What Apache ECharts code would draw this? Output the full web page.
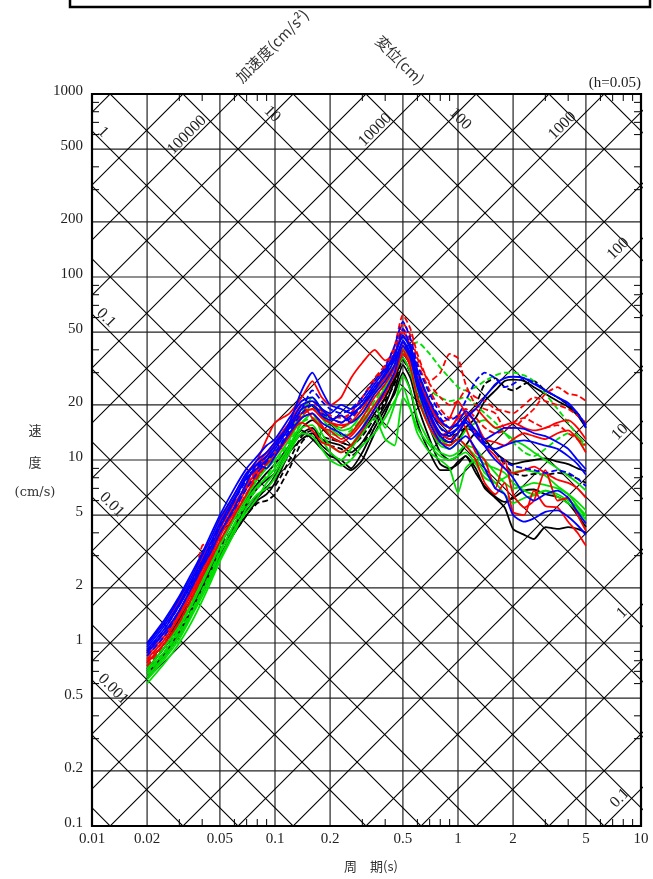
<!DOCTYPE html>
<html><head><meta charset="utf-8">
<script src="https://cdn.jsdelivr.net/npm/echarts@6/dist/echarts.min.js"></script>
<style>html,body{margin:0;padding:0;background:#fff}#c{width:653px;height:879px}</style>
</head><body><div id="c"></div>
<script>
// ---------------- DATA ----------------
const periods = [0.02,0.025,0.03,0.035,0.04,0.045,0.05,0.06,0.07,0.08,0.09,0.1,
  0.12,0.14,0.16,0.18,0.2, 0.23,0.26,0.3,0.35,0.4,0.45,0.5,
  0.55,0.6,0.7,0.8,0.9,1.0, 1.1,1.25,1.4,1.6,1.8,2.0, 2.3,2.6,3.0,3.5,4.0,4.5,5.0];

const blackSolid1 = [0.65,0.85,1.1,1.45,1.9,2.4,2.9,4.0,5.0,6.0,6.5,7.5, 11,13,14,12,11, 9.5,8.8,10,14,18,24,33, 28,20,13,9.5,9.0,9.5, 10.5,9,7,6.2,5.5,4.2, 3.9,3.7,4.3,4.2,4.3,4.2,4.0];
const blackSolid2 = [0.72,0.95,1.25,1.6,2.1,2.6,3.2,4.3,5.8,7.0,7.8,8.5, 11.5,14,15,13,12.5, 12,11,12.5,16,20,27,36, 30,22,15,11,10,10.5, 12,14,13,11,10,9.5, 9.8,10,10.2,9.8,9.5,9,8.7];
const blackSolid3 = [0.78,1.0,1.35,1.75,2.3,2.8,3.4,4.8,6.2,7.4,8.5,9.5, 12,15,16.5,15,13.5, 12.5,12,14,18,22,28,38, 33,25,17,13,12.5,13, 15,17,21,24,27,27.5, 27,25,23,21,19.5,17.5,15];
const blackSolid4 = [0.68,0.88,1.15,1.5,2.0,2.5,3.0,4.1,5.3,6.2,7.0,8.2, 12,14.5,13,11.5,10.5, 10,9,11,15,19,23,30, 24,16,11,8.8,8.8,9.8, 10.5,8.5,7.2,6.3,5.9,6.2, 6.8,6.9,6.5,6.3,5.8,5.0,4.3];
const blackDash1 = [0.7,0.9,1.2,1.55,2.0,2.5,3.0,4.0,5.0,5.8,6.0,6.5, 9,12.5,14,13,12, 11.5,10.5,12,16,21,26,35, 30,23,17,14,13,14, 16.5,20,26,28,25,24, 26,27,24,22,20,18,15.5];
const blackDash2 = [0.75,0.95,1.3,1.7,2.2,2.7,3.3,4.4,5.6,6.4,7.0,7.2, 10,13.5,14.5,13.5,13, 12.5,12,13.5,17,22,29,40, 34,26,19,15,13.5,14, 15,14,12.5,11,9.5,8.5, 8.2,8.4,8.3,8.5,8.3,7.9,7.5];

const redSolid1 = [1.0,1.3,1.7,2.2,2.9,3.6,4.6,6.5,8.5,10,13,16, 18,22,27,22,20, 22,28,34,40,35,38,50, 42,30,20,16,15,17, 18,16,13,12.5,12,13, 14,13.5,13,14,14.5,13,11];
const redSolid2 = [0.85,1.1,1.45,1.9,2.5,3.1,3.8,5.5,7.5,9.5,11,12.5, 16,20,17,15,14.5, 13,14,17,22,26,32,44, 38,27,18,14,13,14, 17,19,17,15,15.5,16, 15,14.5,15,16,16.5,15,13];
const redSolid3 = [0.78,1.0,1.3,1.75,2.3,2.9,3.6,5.0,6.5,8.5,10,11, 14,16,14.5,12.5,12, 11,12,14.5,19,23,30,40, 32,22,15,12.5,12,13, 12,10,7.5,6.5,7.5,5.2, 5.0,6.8,5.6,5.5,4.6,4.0,3.4];
const redSolid4 = [0.9,1.15,1.5,2.0,2.6,3.3,4.2,5.8,7.2,8.8,10.5,12, 15,18,19,17,16, 15.5,16,19,24,28,33,42, 35,26,17,13.5,14.5,17, 15,11,10,7.0,10,6.5, 5.5,6.0,8.8,6.0,6.2,5.0,4.1];
const redSolid5 = [0.82,1.05,1.4,1.85,2.4,3.0,3.9,5.2,7.0,8.2,9.5,10.5, 13.5,17,18,15.5,13.5, 12.5,13.5,16,20,24,29,38, 34,28,20,16,17,21, 18,14,12,10.5,9,8.5, 8.8,9.2,8.5,7.8,7.5,7.0,6.2];
const redDash1 = [0.8,1.05,1.4,1.9,3.4,3.5,4.0,5.5,7.2,8.5,10,12, 15,19,20,18,17, 16,18,22,28,33,42,62, 52,38,27,30,38,36, 26,20,19,18,15,15, 17,19,23,25,23,22.5,21];
const redDash2 = [0.75,1.0,1.3,1.75,2.3,2.9,3.6,5.0,6.6,8.0,9.5,11, 14,17.5,19,17,16, 15,16.5,20,25,30,38,56, 48,36,26,22,20,21, 24,22,21,19,18.5,18, 20,22,21,20,19,17.5,16];
const redDash3 = [0.88,1.15,1.5,2.0,2.6,3.3,4.1,5.6,7.4,9.0,10.5,12.5, 16,20,21,18.5,17.5, 17,18,22,27,32,40,52, 45,34,24,19,17,17.5, 19,17,15,14,14.5,16, 17,16,15,15.5,14,13,12];

const blueSolid1 = [0.98,1.3,1.75,2.3,3.0,3.8,4.8,6.5,8.5,9.5,10.5,12, 16,24,30,24,20, 19,18,20,24,30,37,48, 40,28,19,15,14,15, 17,19,22,26,28,28.5, 28,26,24,22,20.5,18,15.5];
const blueSolid2 = [0.92,1.2,1.6,2.1,2.7,3.4,4.3,6.0,8.0,9.0,10,11.5, 15,19,20,17.5,16.5, 17.5,16,18,23,27,33,45, 38,27,18,14,13.5,15, 16.5,14.5,13,14,15,15, 14.8,14,13.5,12.5,11.5,10,8.9];
const blueSolid3 = [0.88,1.15,1.5,2.0,2.6,3.2,4.0,5.5,7.5,9.5,9.0,10.5, 14,17,18,16,15, 14,13,15,19,24,30,42, 36,25,16,12.5,11.5,12.5, 13.5,11.5,9,7,6.5,5.0, 4.6,4.8,5.2,5.3,4.9,4.4,3.9];
const blueSolid4 = [1.0,1.35,1.8,2.4,3.1,4.0,5.0,7.0,9.0,10.5,12,13, 17,21,22,19,18, 20,19,21,26,31,38,47, 42,31,21,16.5,15,16, 18.5,16,12,10,9,8, 6.5,6.0,6.5,6.8,6.2,5.2,4.5];
const blueSolid5 = [0.95,1.25,1.65,2.2,2.8,3.6,4.5,6.2,8.2,10,11,12.5, 15.5,20,21,19,17, 16,17.5,20,25,29,35,44, 37,26,17.5,13.5,12.5,14, 16,13.5,12,11.5,12,12.5, 12.8,12.5,12,11.5,10.5,9.5,8.3];
const blueDash1 = [0.9,1.2,1.6,2.15,2.8,3.5,4.4,6.0,7.8,9.2,10.5,12, 15,19,24,21,19, 18,19,22,27,32,42,57, 46,33,23,18,16.5,17.5, 21,27,30,28,25,26, 28,26.5,24,22,20,18,15];
const blueDash2 = [0.85,1.1,1.5,2.0,2.6,3.2,4.0,5.4,7.0,8.5,9.8,11, 14.5,18,20,18,17, 16,17,20,25,29,36,52, 42,30,21,17,15,15.5, 16,14,12.5,11,9.8,9.3, 9.0,8.8,8.5,8.8,8.5,7.9,7.2];

const greenSolid1 = [0.6,0.78,1.0,1.3,1.7,2.2,2.8,4.0,5.5,6.5,7.0,8.0, 11,14,13.5,11.5,10, 9.3,10,12,14,17,21,25, 19,14,11,10,9,6.6, 9,10,8.5,7.5,6.5,5.8, 6.2,6.4,6.8,6.5,6.0,5.5,4.9];
const greenSolid2 = [0.65,0.85,1.1,1.45,1.9,2.4,3.1,4.5,6.0,7.2,8.0,9.0, 12,16,18,14,12, 11,12,15,20,15,20,29, 24,17,12.5,11,10.5,11, 12,11.5,10,8.5,7.5,7.0, 7.2,7.5,7.3,7.0,6.5,5.9,5.3];
const greenSolid3 = [0.7,0.9,1.2,1.6,2.1,2.7,3.4,4.8,6.3,7.8,9.0,10, 13,17,20,17,15, 13.5,14,16.5,20,25,30,36, 30,22,15,12,11.5,12.5, 14.5,16,16.5,15,14,13, 12,11,10,9,8.2,7.5,6.8];
const greenSolid4 = [0.63,0.82,1.05,1.4,1.8,2.3,2.9,4.2,5.2,6.2,7.5,8.5, 11.5,15,15.5,13,11, 10,11.5,14,17,13,12,22, 19,15,12,10.5,10,10.5, 11,9.5,8.0,7.5,8.0,8.5, 8.8,8.6,8.2,7.2,6.5,5.6,5.0];
const greenSolid5 = [0.72,0.95,1.25,1.65,2.2,2.8,3.5,4.9,6.5,8.0,9.5,11, 14,18,22,19,16, 14.5,15,18,23,28,33,40, 33,24,16,13,12,13, 12,10.5,9.5,9,8.5,7.5, 6.8,6.5,6.8,6.3,5.8,5.3,4.7];
const greenDash1 = [0.75,0.98,1.3,1.7,2.2,2.8,3.5,4.8,6.3,7.8,9.2,10.5, 14,18,20,18,16, 15,16,19,24,29,34,38, 42,44,38,32,28,25, 24,25,27,29,30,30, 29,27,23,19,16,13.5,11.5];
const greenDash2 = [0.68,0.88,1.15,1.5,1.95,2.5,3.2,4.4,5.8,7.0,8.2,9.5, 12.5,16,17,15.5,14, 13.5,14.5,17,21,26,32,40, 34,28,24,22,21,21.5, 22,20,18,16,14,12.5, 11,10.5,11.5,13,14,13.5,12];

const xTickValues = [0.01,0.02,0.05,0.1,0.2,0.5,1,2,5,10];
const xTickLabels = ['0.01','0.02','0.05','0.1','0.2','0.5','1','2','5','10'];
const yTickValues = [0.1,0.2,0.5,1,2,5,10,20,50,100,200,500,1000];
const yTickLabels = ['0.1','0.2','0.5','1','2','5','10','20','50','100','200','500','1000'];
const gridPeriods = [0.02,0.05,0.1,0.2,0.5,1,2,5];
const gridVelocities = [0.2,0.5,1,2,5,10,20,50,100,200,500];
const accelValues = [0.05,0.1,0.2,0.5,1,2,5,10,20,50,100,200,500,1000,2000,5000,10000,20000,50000,100000,200000,500000,1000000];
const dispValues = [0.0001,0.0002,0.0005,0.001,0.002,0.005,0.01,0.02,0.05,0.1,0.2,0.5,1,2,5,10,20,50,100,200,500,1000,2000];
const accelLabelValues = [100000,10000,1000,100,10,1,0.1];
const accelLabelTexts = ['100000','10000','1000','100','10','1','0.1'];
const dispLabelValues = [1,0.1,0.01,0.001,10,100];
const dispLabelTexts = ['1','0.1','0.01','0.001','10','100'];

// ---------------- STYLE / LAYOUT ----------------
const BLACK='#000000', RED='#ff0000', BLUE='#0000ff', GREEN='#00e000';
const curves = [
  {d:blackSolid1,c:BLACK,dash:false},{d:blackSolid2,c:BLACK,dash:false},{d:blackSolid3,c:BLACK,dash:false},{d:blackSolid4,c:BLACK,dash:false},
  {d:blackDash1,c:BLACK,dash:true},{d:blackDash2,c:BLACK,dash:true},
  {d:greenSolid1,c:GREEN,dash:false},{d:greenSolid2,c:GREEN,dash:false},{d:greenSolid3,c:GREEN,dash:false},{d:greenSolid4,c:GREEN,dash:false},{d:greenSolid5,c:GREEN,dash:false},
  {d:greenDash1,c:GREEN,dash:true},{d:greenDash2,c:GREEN,dash:true},
  {d:redSolid1,c:RED,dash:false},{d:redSolid2,c:RED,dash:false},{d:redSolid3,c:RED,dash:false},{d:redSolid4,c:RED,dash:false},{d:redSolid5,c:RED,dash:false},
  {d:redDash1,c:RED,dash:true},{d:redDash2,c:RED,dash:true},{d:redDash3,c:RED,dash:true},
  {d:blueSolid1,c:BLUE,dash:false},{d:blueSolid2,c:BLUE,dash:false},{d:blueSolid3,c:BLUE,dash:false},{d:blueSolid4,c:BLUE,dash:false},{d:blueSolid5,c:BLUE,dash:false},
  {d:blueDash1,c:BLUE,dash:true},{d:blueDash2,c:BLUE,dash:true}
];
const accelLabelLayout = [{t:0.0352,k:5},{t:0.3755,k:5},{t:3.96,k:5},{t:8.2,k:7},{t:8.27,k:6},{t:8.5,k:6},{t:8.27,k:6}];
const dispLabelLayout = [{t:0.0108,k:5},{t:0.0112,k:5},{t:0.0119,k:6},{t:0.0121,k:6},{t:0.0884,k:7},{t:0.94,k:7}];

const X_MIN=0.01, X_MAX=10, Y_MIN=0.1, Y_MAX=1000;
const TWO_PI = 2*Math.PI;
const NUM_FONT = '"Liberation Serif", "DejaVu Serif", serif';
const CJK_FONT = '"Noto Sans CJK JP", sans-serif';

const chart = echarts.init(document.getElementById('c'), null, {renderer:'canvas'});

function refLine(pts, color, width){
  return {type:'line', data:pts, symbol:'none', showSymbol:false, silent:true, animation:false,
    clip:true, lineStyle:{color:color, width:width}, z:1};
}
const series = [];
gridPeriods.forEach(t => series.push(refLine([[t,Y_MIN],[t,Y_MAX]], '#222', 1.2)));
gridVelocities.forEach(v => series.push(refLine([[X_MIN,v],[X_MAX,v]], '#222', 1.2)));
accelValues.forEach(a => series.push(refLine([[0.001, a*0.001/TWO_PI],[100, a*100/TWO_PI]], '#000', 1.1)));
dispValues.forEach(dv => series.push(refLine([[0.001, TWO_PI*dv/0.001],[100, TWO_PI*dv/100]], '#000', 1.1)));
curves.forEach(cv => {
  series.push({type:'line', data: periods.map((p,i)=>[p, cv.d[i]]).filter(q=>q[1]!=null),
    smooth:0.2, symbol:'none', showSymbol:false, animation:false, silent:true, z:3,
    lineStyle:{color:cv.c, width:1.8, type: cv.dash ? [6,3] : 'solid'}});
});

chart.setOption({
  animation:false,
  backgroundColor:'#fff',
  grid:{left:92, top:94, width:549, height:732, containLabel:false},
  xAxis:{type:'log', logBase:10, min:X_MIN, max:X_MAX, axisLabel:{show:false}, axisTick:{show:false}, axisLine:{show:false}, splitLine:{show:false}},
  yAxis:{type:'log', logBase:10, min:Y_MIN, max:Y_MAX, axisLabel:{show:false}, axisTick:{show:false}, axisLine:{show:false}, splitLine:{show:false}},
  series: series
});

const px = (t,v) => chart.convertToPixel({gridIndex:0}, [t,v]);
const g = [];
const tl = px(X_MIN, Y_MAX), br = px(X_MAX, Y_MIN);
g.push({type:'rect', shape:{x:70, y:-10, width:580, height:17}, style:{fill:'none', stroke:'#000', lineWidth:2.5}, z:100});
g.push({type:'rect', shape:{x:tl[0], y:tl[1], width:br[0]-tl[0], height:br[1]-tl[1]}, style:{fill:'none', stroke:'#000', lineWidth:2.2}, z:100});
const mult = [3,4,6,7,8,9];
const TL = 7;
[0.01,0.1,1].forEach(dec => mult.forEach(m => {
  const p = px(dec*m, Y_MIN)[0];
  g.push({type:'line', shape:{x1:p,y1:br[1],x2:p,y2:br[1]-TL}, style:{stroke:'#000', lineWidth:1}, z:100});
  g.push({type:'line', shape:{x1:p,y1:tl[1],x2:p,y2:tl[1]+TL}, style:{stroke:'#000', lineWidth:1}, z:100});
}));
[0.1,1,10,100].forEach(dec => mult.forEach(m => {
  const p = px(X_MIN, dec*m)[1];
  g.push({type:'line', shape:{x1:tl[0],y1:p,x2:tl[0]+TL,y2:p}, style:{stroke:'#000', lineWidth:1}, z:100});
  g.push({type:'line', shape:{x1:br[0],y1:p,x2:br[0]-TL,y2:p}, style:{stroke:'#000', lineWidth:1}, z:100});
}));
xTickValues.forEach((t,i) => {
  const p = px(t, Y_MIN);
  g.push({type:'text', x:p[0], y:p[1]+13, style:{text:xTickLabels[i], fill:'#222', font:'15px '+NUM_FONT, align:'center', verticalAlign:'middle'}, z:100});
});
yTickValues.forEach((v,i) => {
  const p = px(X_MIN, v);
  g.push({type:'text', x:p[0]-9, y:p[1]-3, style:{text:yTickLabels[i], fill:'#222', font:'15px '+NUM_FONT, align:'right', verticalAlign:'middle'}, z:100});
});
accelLabelValues.forEach((a,i) => {
  const L = accelLabelLayout[i];
  const p = px(L.t, a*L.t/TWO_PI);
  g.push({type:'text', x:p[0]-L.k, y:p[1]-L.k, rotation:Math.PI/4,
    style:{text:accelLabelTexts[i], fill:'#222', font:'16px '+NUM_FONT, align:'center', verticalAlign:'middle'}, z:100});
});
dispLabelValues.forEach((dv,i) => {
  const L = dispLabelLayout[i];
  const p = px(L.t, TWO_PI*dv/L.t);
  g.push({type:'text', x:p[0]+L.k, y:p[1]-L.k, rotation:-Math.PI/4,
    style:{text:dispLabelTexts[i], fill:'#222', font:'16px '+NUM_FONT, align:'center', verticalAlign:'middle'}, z:100});
});
g.push({type:'text', x:272, y:46, rotation:Math.PI/4, style:{text:'加速度(cm/s²)', fill:'#333', font:'15px '+CJK_FONT, align:'center', verticalAlign:'middle'}, z:100});
g.push({type:'text', x:400, y:60, rotation:-Math.PI/4, style:{text:'変位(cm)', fill:'#333', font:'15px '+CJK_FONT, align:'center', verticalAlign:'middle'}, z:100});
g.push({type:'text', x:641, y:83, style:{text:'(h=0.05)', fill:'#222', font:'15px '+NUM_FONT, align:'right', verticalAlign:'middle'}, z:100});
g.push({type:'text', x:35, y:430, style:{text:'速', fill:'#333', font:'13px '+CJK_FONT, align:'center', verticalAlign:'middle'}, z:100});
g.push({type:'text', x:35, y:462, style:{text:'度', fill:'#333', font:'13px '+CJK_FONT, align:'center', verticalAlign:'middle'}, z:100});
g.push({type:'text', x:35, y:493, style:{text:'(cm/s)', fill:'#333', font:'13px "DejaVu Serif", serif', align:'center', verticalAlign:'middle'}, z:100});
g.push({type:'text', x:371, y:866, style:{text:'周　期(s)', fill:'#333', font:'13px '+CJK_FONT, align:'center', verticalAlign:'middle'}, z:100});

chart.setOption({graphic:{elements:g}});
</script></body></html>
